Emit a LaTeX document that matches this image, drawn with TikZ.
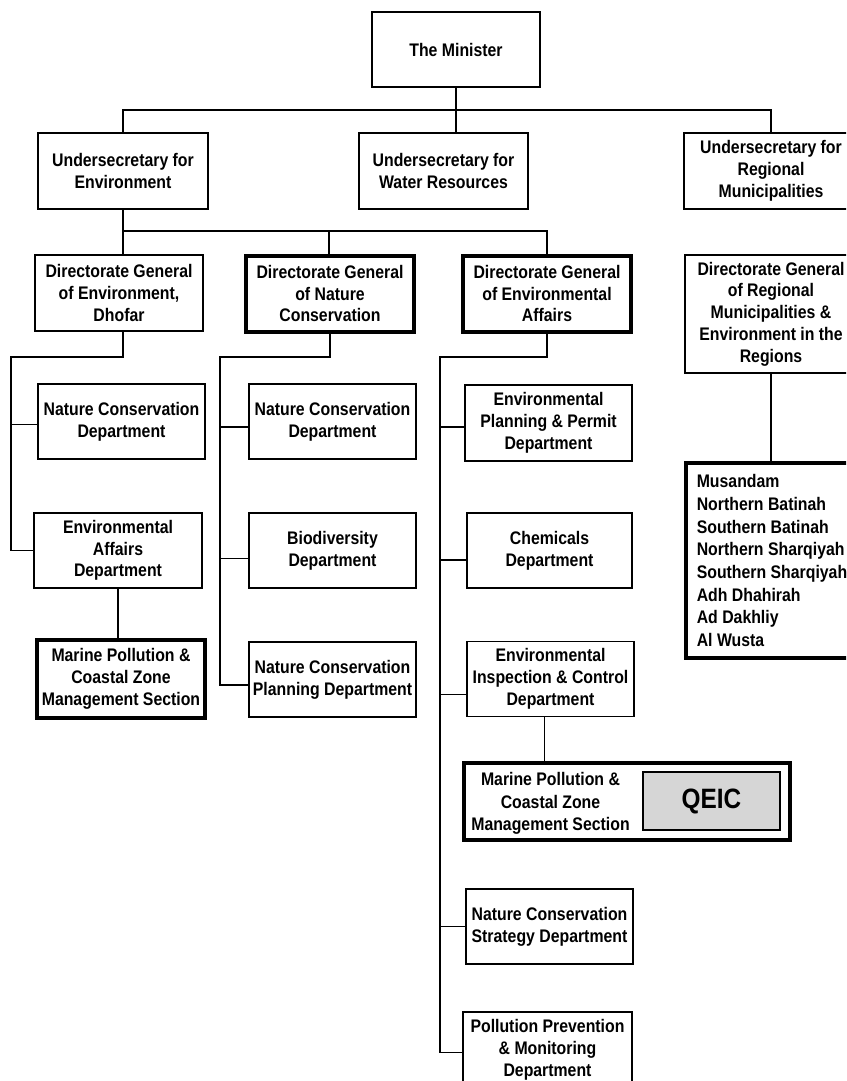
\documentclass[tikz,border=0pt]{standalone}
\usepackage{fontspec}
\newfontfamily\orgfont{Liberation Sans}[FakeStretch=0.87]
\newlength\upx
\setlength\upx{0.75pt}

\begin{document}
\begin{tikzpicture}[x=0.75pt, y=-0.75pt,
    box/.style={draw, line width=1pt, fill=white, align=center, inner sep=1pt,
        font=\orgfont\bfseries\fontsize{13.65}{16.3}\selectfont,
        minimum width=168\upx, minimum height=76\upx},
    heavy/.style={box, line width=3pt},
    boxsize/.style 2 args={minimum width=#1\upx, minimum height=#2\upx},
    link/.style={line width=1pt}]
    \path[use as bounding box, clip] (0, 0) rectangle (846, 1081);

    \node[box, boxsize={168}{75}] (min) at (456, 49.5) {The Minister};
    \node[box, boxsize={170}{76}] (env) at (123, 171) {Undersecretary for\\Environment};
    \node[box, boxsize={169}{76}] (wat) at (443.5, 171) {Undersecretary for\\Water Resources};
    \node[box, boxsize={174}{76}] (reg) at (771, 171) {Undersecretary for\\Regional\\Municipalities};

    \node[box] (dgd) at (119, 293) {Directorate General\\of Environment,\\Dhofar};
    \node[heavy] (dgn) at (330, 293.5) {Directorate General\\of Nature\\Conservation};
    \node[heavy] (dge) at (547, 293.5) {Directorate General\\of Environmental\\Affairs};
    \node[box, boxsize={172}{118}] (dgr) at (771, 314) {Directorate General\\of Regional\\Municipalities \&\\Environment in the\\Regions};

    \node[box, boxsize={167}{75}] (ncd1) at (121.5, 421.5) {Nature Conservation\\Department};
    \node[box, boxsize={167}{75}] (ncd2) at (332.5, 421.5) {Nature Conservation\\Department};
    \node[box, boxsize={167}{76}] (epp) at (548.5, 423) {Environmental\\Planning \& Permit\\Department};
    \node[heavy, boxsize={172}{195}, align=left,
        font=\orgfont\bfseries\fontsize{13.65}{17}\selectfont] (mus) at (772, 560.5)
        {Musandam\\Northern Batinah\\Southern Batinah\\Northern Sharqiyah\\Southern Sharqiyah\\Adh Dhahirah\\Ad Dakhliy\\Al Wusta};

    \node[box, boxsize={168}{75}] (ead) at (118, 550.5) {Environmental\\Affairs\\Department};
    \node[box, boxsize={167}{75}] (bio) at (332.5, 550.5) {Biodiversity\\Department};
    \node[box, boxsize={165}{75}] (chem) at (549.5, 550.5) {Chemicals\\Department};

    \node[heavy, boxsize={168}{78}] (mar1) at (121, 679) {Marine Pollution \&\\Coastal Zone\\Management Section};
    \node[box, boxsize={167}{75}] (ncp) at (332.5, 679.5) {Nature Conservation\\Planning Department};
    \node[box, boxsize={167}{75}] (eic) at (550.5, 679) {Environmental\\Inspection \& Control\\Department};

    \node[heavy, boxsize={326}{77}] (mar2) at (627, 801.5) {};
    \node[align=center, inner sep=0pt, font=\orgfont\bfseries\fontsize{13.65}{16.8}\selectfont] (mar2txt) at (550.5, 803.5) {Marine Pollution \&\\Coastal Zone\\Management Section};
    \node[draw, line width=1.7pt, fill=black!16, boxsize={137}{58},
        font=\orgfont\bfseries\fontsize{21}{24}\selectfont] (qeic) at (711.5, 801) {QEIC};

    \node[box, boxsize={167}{75}] (ncs) at (549.5, 926.5) {Nature Conservation\\Strategy Department};
    \node[box, boxsize={169}{76}] (ppm) at (547.5, 1050) {Pollution Prevention\\\& Monitoring\\Department};

    \coordinate (busA) at (456, 110);
    \coordinate (busB) at (329, 231);
    \coordinate (sp1) at (11, 357);
    \coordinate (sp2) at (220, 357);
    \coordinate (sp3) at (440, 357);

    \draw[link] (min.south) -- (min.south |- wat.north);
    \draw[link] (env.north) |- (busA) -| (reg.north);
    \draw[link] (env.south) -- (env.south |- dgd.north);
    \draw[link] (env.south |- busB) -| (dge.north);
    \draw[link] (busB) -- (busB |- dgn.north);
    \draw[link] (dgr.south) -- (dgr.south |- mus.north);

    \draw[link] ([xshift=3pt]dgd.south) |- (sp1) |- (ead.west);
    \draw[link] ([yshift=-2pt]ncd1.west) -- ([yshift=-2pt]ncd1.west -| sp1);
    \draw[link] (ead.south) -- (ead.south |- mar1.north);

    \draw[link] (dgn.south) |- (sp2) |- ([yshift=-4pt]ncp.west);
    \draw[link] ([yshift=-4pt]ncd2.west) -- ([yshift=-4pt]ncd2.west -| sp2);
    \draw[link] ([yshift=-6pt]bio.west) -- ([yshift=-6pt]bio.west -| sp2);

    \draw[link] (dge.south) |- (sp3) |- ([yshift=-2pt]ppm.west);
    \draw[link] ([yshift=-3pt]epp.west) -- ([yshift=-3pt]epp.west -| sp3);
    \draw[link] ([yshift=-7pt]chem.west) -- ([yshift=-7pt]chem.west -| sp3);
    \draw[link] ([yshift=-11.5pt]eic.west) -- ([yshift=-11.5pt]eic.west -| sp3);
    \draw[link] (ncs.west) -- (ncs.west -| sp3);
    \draw[link] ([xshift=-4.5pt]eic.south) -- ([xshift=-4.5pt]eic.south |- mar2.north);
\end{tikzpicture}
\end{document}
